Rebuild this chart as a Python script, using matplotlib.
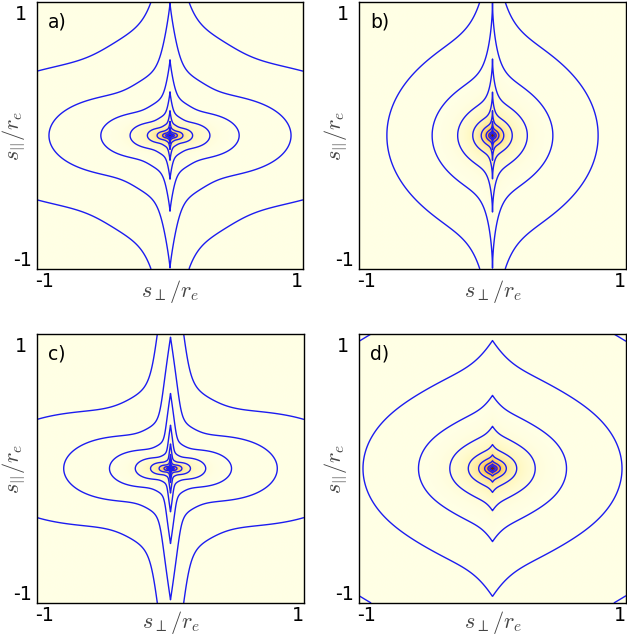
import numpy as np
import matplotlib.pyplot as plt

plt.rcParams['mathtext.fontset'] = 'cm'

# panel settings
panel_labels = ['a)', 'b)', 'c)', 'd)']
panel_scale = [1.0, 0.868, 0.879, 1.066]      # side extent of each panel relative to a)
base_level = [0.50, 0.90, 0.42, 0.75]         # contour radius at 45 deg (relative)
side_amp = [0.50, 0.10, 0.58, 0.25]           # rounded bulge along s_perp
side_width = [0.33, 0.50, 0.34, 0.45]
cusp_amp = [0.59, 1.30, 0.80, 0.23]           # spike along s_par
cusp_width = [0.09, 0.065, 0.10, 0.16]
cusp_power = [0.85, 0.6, 1.0, 1.0]
first_level = [0, 1, 0, 0]                    # b) shows no corner contour

# contour levels, given as the s_perp extent of each contour in panel a)
contour_radii = [1.59, 0.91, 0.52, 0.30, 0.17, 0.097, 0.055, 0.032, 0.018]

tick_labels = ['-1', '1']

W, H = 627, 635
axes_px = [(37, 2, 266, 267), (359, 2, 267, 267), (37, 334, 267, 269), (359, 334, 267, 269)]
xlabel_y = [-0.085, -0.085, -0.072, -0.072]


def scaled_radius(x, y, i):
    r = np.hypot(x, y)
    theta = np.arctan2(np.abs(x), np.abs(y))     # angle from the s_par axis
    phi = np.pi / 2 - theta                       # angle from the s_perp axis
    h = (base_level[i]
         + side_amp[i] * np.exp(-phi ** 2 / (2 * side_width[i] ** 2))
         + cusp_amp[i] * np.exp(-(theta / cusp_width[i]) ** cusp_power[i]))
    return r / (panel_scale[i] * h)


n = 901
s = np.linspace(-1, 1, n)
X, Y = np.meshgrid(s, s)

fig = plt.figure(figsize=(W / 100, H / 100), dpi=100)

for i in range(4):
    left, top, w, h = axes_px[i]
    ax = fig.add_axes([left / W, 1 - (top + h) / H, w / W, h / H])

    Q = scaled_radius(X, Y, i)
    Q = np.maximum(Q, 1e-4)
    shade = np.clip(np.log10(0.5 / Q) / np.log10(0.5 / 0.01), 0, 1) ** 1.6
    ax.imshow(shade, extent=[-1, 1, -1, 1], origin='lower', cmap='YlOrBr',
              vmin=0, vmax=1, interpolation='bilinear', aspect='auto')
    ax.contour(X, Y, Q, levels=sorted(contour_radii[first_level[i]:]),
               colors='#1c1cf0', linewidths=1.0)

    ax.set_xlim(-1, 1)
    ax.set_ylim(-1, 1)
    ax.set_xticks([])
    ax.set_yticks([])
    for sp in ax.spines.values():
        sp.set_linewidth(1.0)
        sp.set_color('black')

    ax.text(0.041, 0.962, panel_labels[i], transform=ax.transAxes, fontsize=13.5,
            ha='left', va='top')

    ax.text(-0.008, -0.012, tick_labels[0], transform=ax.transAxes, fontsize=13.8,
            ha='left', va='top')
    ax.text(1.0, -0.012, tick_labels[1], transform=ax.transAxes, fontsize=13.8,
            ha='right', va='top')
    ax.text(-0.06, 0.99, tick_labels[1], transform=ax.transAxes, fontsize=13.8,
            ha='center', va='top')
    ax.text(-0.053, -0.005, tick_labels[0], transform=ax.transAxes, fontsize=13.8,
            ha='center', va='bottom')

    ax.text(0.5, xlabel_y[i], r'$s_{\perp}/r_e$', transform=ax.transAxes, fontsize=16,
            ha='center', va='center', color='#444444')
    ax.text(-0.088, 0.5, r'$s_{||}/r_e$', transform=ax.transAxes, fontsize=16,
            ha='center', va='center', rotation=90, color='#444444')

fig.savefig('out.png', dpi=100)
